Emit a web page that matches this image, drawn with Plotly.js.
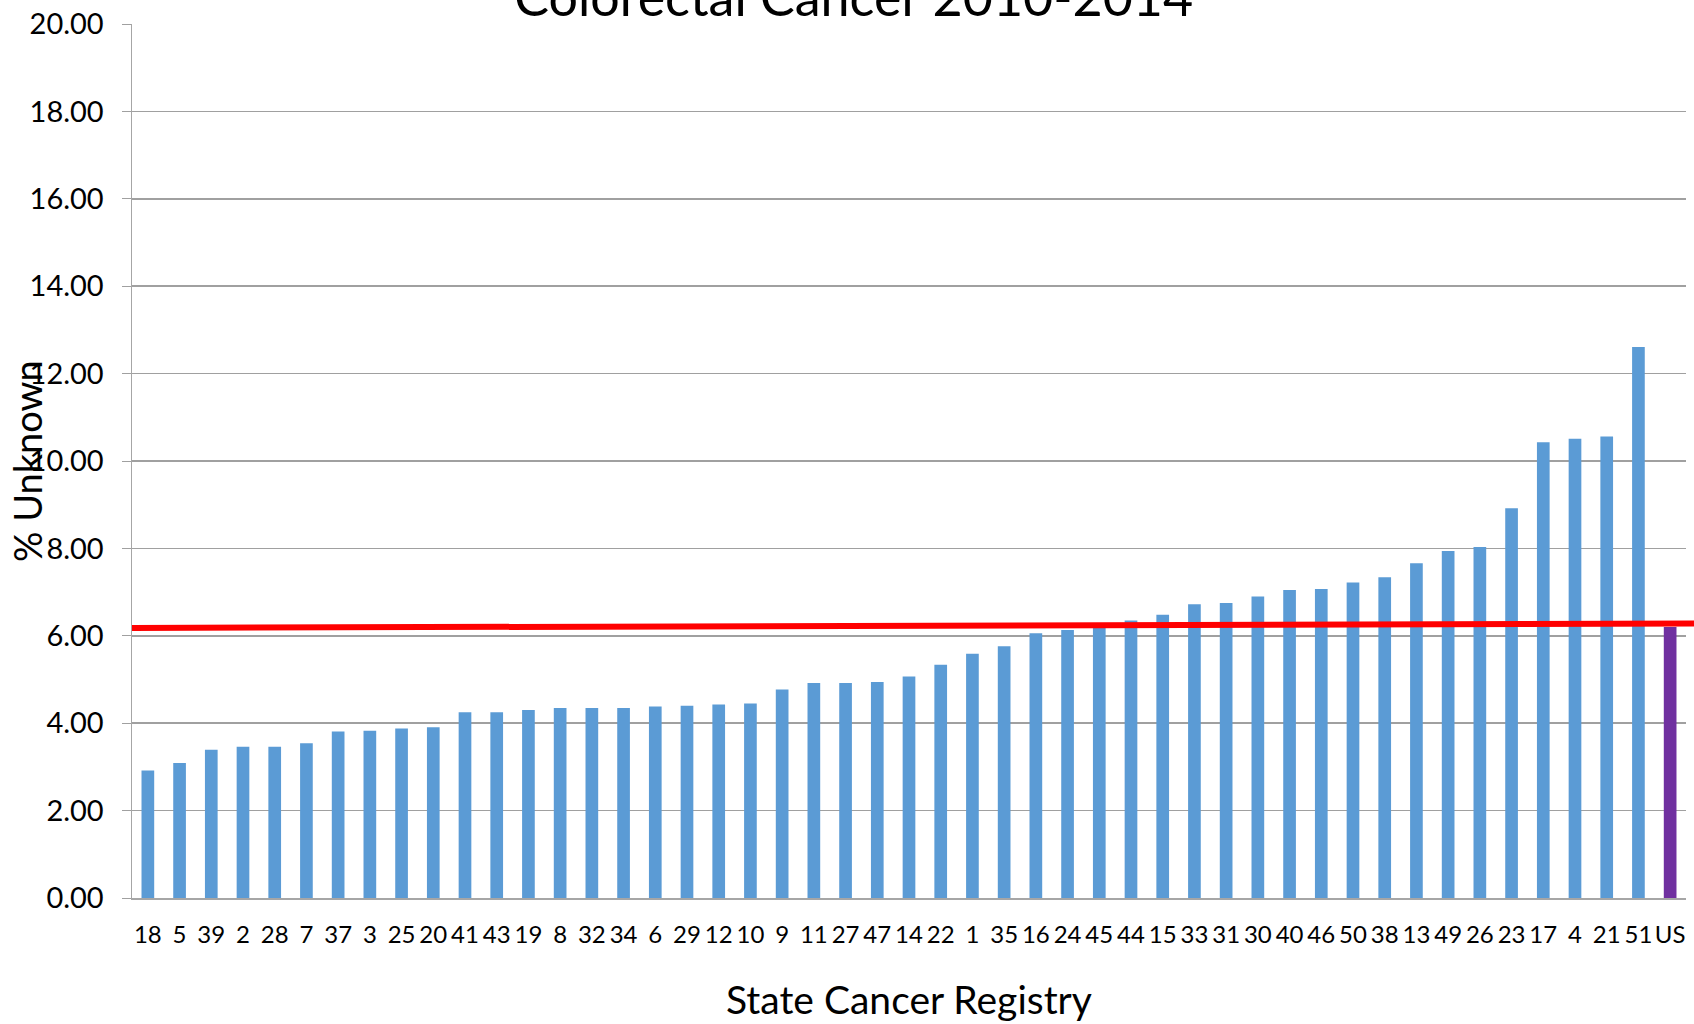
<!DOCTYPE html>
<html>
<head>
<meta charset="utf-8">
<script src="https://cdn.plot.ly/plotly-3.0.1.min.js"></script>
<style>html,body{margin:0;padding:0;background:#fff;}#chart{width:1694px;height:1024px;}</style>
</head>
<body>
<div id="chart"></div>
<script>
const registries = ["18","5","39","2","28","7","37","3","25","20","41","43","19","8","32","34","6","29","12","10","9","11","27","47","14","22","1","35","16","24","45","44","15","33","31","30","40","46","50","38","13","49","26","23","17","4","21","51","US"];
const pctUnknown = [2.92,3.09,3.39,3.46,3.46,3.54,3.81,3.83,3.88,3.91,4.25,4.25,4.30,4.35,4.35,4.35,4.38,4.40,4.43,4.45,4.77,4.92,4.92,4.94,5.07,5.34,5.59,5.76,6.06,6.13,6.25,6.35,6.48,6.72,6.75,6.90,7.05,7.07,7.22,7.34,7.66,7.94,8.03,8.92,10.43,10.51,10.56,12.61,6.20];
const benchmarkStart = 6.18;
const benchmarkEnd = 6.28;
const yTicks = [0,2,4,6,8,10,12,14,16,18,20];

const barColors = registries.map(r => r === "US" ? "#7030A0" : "#5B9BD5");

const font = "Lato, 'Open Sans', sans-serif";

const trace = {
  type: "bar",
  x: registries,
  y: pctUnknown,
  marker: {color: barColors, line: {width: 0}},
  width: 0.4,
  hoverinfo: "x+y"
};

const layout = {
  width: 1694,
  height: 1024,
  paper_bgcolor: "#ffffff",
  plot_bgcolor: "#ffffff",
  margin: {l: 132, r: 8, t: 24, b: 126},
  showlegend: false,
  font: {family: font, color: "#000000"},
  title: {
    text: "Colorectal Cancer 2010-2014",
    font: {family: font, size: 52, color: "#000000"},
    x: 0.504, xanchor: "center",
    xref: "container", yref: "container",
    y: 1 - 16/1024, yanchor: "bottom"
  },
  xaxis: {
    type: "category",
    categoryorder: "array",
    categoryarray: registries,
    tickfont: {family: font, size: 24, color: "#000000"},
    ticks: "",
    ticklabelstandoff: 14,
    showline: true,
    linecolor: "#a6a6a6",
    linewidth: 2,
    showgrid: false,
    zeroline: false,
    title: {text: "State Cancer Registry", font: {family: font, size: 39, color: "#000000"}, standoff: 40},
    automargin: false
  },
  yaxis: {
    range: [0, 20],
    tickvals: yTicks,
    ticktext: yTicks.map(v => v.toFixed(2)),
    tickfont: {family: font, size: 29, color: "#000000"},
    ticks: "outside",
    ticklen: 9,
    tickcolor: "#a0a0a0",
    ticklabelstandoff: 12,
    showline: true,
    linecolor: "#a6a6a6",
    linewidth: 1.5,
    showgrid: true,
    gridcolor: "#a0a0a0",
    gridwidth: 1.5,
    zeroline: false,
    automargin: false
  },
  annotations: [{
    text: "% Unknown",
    xref: "paper", yref: "paper",
    x: (27 - 132) / 1554, y: 0.5,
    xanchor: "center", yanchor: "middle",
    textangle: -90,
    showarrow: false,
    font: {family: font, size: 38, color: "#000000"}
  }],
  shapes: [{
    type: "line",
    xref: "paper", yref: "y",
    x0: 0, x1: (1694 - 132) / 1554,
    y0: benchmarkStart, y1: benchmarkEnd,
    line: {color: "#ff0000", width: 6}
  }]
};

Plotly.newPlot("chart", [trace], layout, {displayModeBar: false, staticPlot: true});
</script>
</body>
</html>
